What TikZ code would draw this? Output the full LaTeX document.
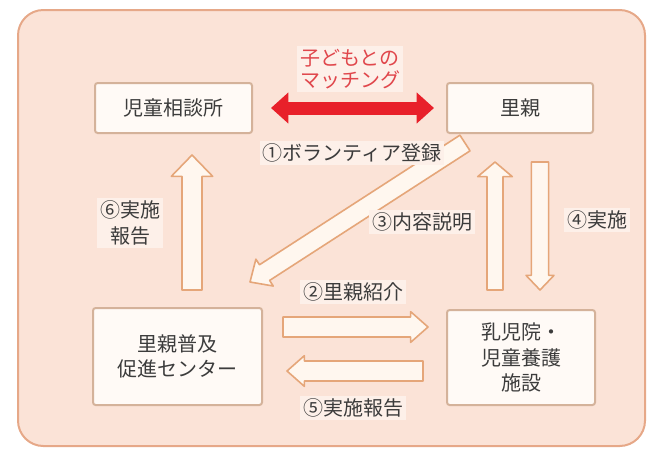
\documentclass[tikz,border=0pt]{standalone}
\usepackage{fontspec}
\setmainfont{Noto Sans CJK JP}
\usetikzlibrary{calc,arrows.meta}
\definecolor{outerfill}{HTML}{FBE3D7}
\definecolor{outerline}{HTML}{E6A888}
\definecolor{boxfill}{HTML}{FFFAF6}
\definecolor{boxline}{HTML}{D4B29A}
\definecolor{arrfill}{HTML}{FFF7EF}
\definecolor{arrline}{HTML}{E5A679}
\definecolor{txt}{HTML}{3C3C3C}
\definecolor{matchred}{HTML}{E8202A}
\definecolor{matchtxt}{HTML}{E0474C}
\definecolor{lblfill}{HTML}{FDF0E9}
\tikzset{
  entity/.style={draw=boxline, fill=boxfill, line width=1.5pt, rounded corners=2pt,
    text=txt, font=\fontsize{15}{19}\selectfont, align=center, inner sep=0pt},
  harrow/.style={draw=arrline, fill=arrfill, line width=1.2pt, line join=round},
  lbl/.style={fill=lblfill, text=txt, font=\fontsize{15}{20}\selectfont, align=center, inner sep=2pt},
  matcharrow/.style={draw=matchred, line width=9.75pt,
    {Triangle[length=13pt,width=22.5pt]}-{Triangle[length=13pt,width=22.5pt]}},
}
% hollow block arrow: #1 from, #2 to, #3 shaft half width, #4 head half width, #5 head length
\newcommand\hollowarr[5]{%
  \coordinate (hN) at ($(#2)!#5!(#1)$);
  \draw[harrow] ($(#1)!#3!90:(#2)$) -- ($(hN)!#3!90:(#2)$) -- ($(hN)!#4!90:(#2)$) -- (#2)
    -- ($(hN)!#4!-90:(#2)$) -- ($(hN)!#3!-90:(#2)$) -- ($(#1)!#3!-90:(#2)$) -- cycle;}
\begin{document}
\begin{tikzpicture}[x=0.75pt,y=-0.75pt]
\useasboundingbox (0,0) rectangle (652,450);
\draw[draw=outerline, fill=outerfill, line width=1.5pt, rounded corners=19pt] (18,10) rectangle (645,446);

% boxes
\node[entity, minimum width=117.75pt, minimum height=37.5pt] (jidou) at (173.5,108) {児童相談所};
\node[entity, minimum width=109.5pt, minimum height=37.5pt] (satooya) at (520,108) {里親};
\node[entity, minimum width=126.75pt, minimum height=72.75pt] (center) at (177.5,356.5) {里親普及\\促進センター};
\node[entity, minimum width=111pt, minimum height=71.25pt] (shisetsu) at (521,357.5) {乳児院・\\児童養護\\施設};

% matching arrow
\draw[matcharrow, shorten <=13.5pt, shorten >=9pt] (jidou.east) -- (satooya.west);
\node[lbl, text=matchtxt, font=\fontsize{15}{17}\selectfont] (match) at (350,69) {子どもとの\\マッチング};

% arrow end points
\coordinate (a1s) at (465,143); \coordinate (a1e) at (250,282);
\coordinate (a2s) at (283,327); \coordinate (a2e) at (428,327);
\coordinate (a3s) at (495,290); \coordinate (a3e) at (495,162);
\coordinate (a4s) at (540,162); \coordinate (a4e) at (540,290);
\coordinate (a5s) at (423,371); \coordinate (a5e) at (287,371);
\coordinate (a6s) at (192,290); \coordinate (a6e) at (192,155);

\hollowarr{a1s}{a1e}{7pt}{12pt}{13pt}
\hollowarr{a2s}{a2e}{7.5pt}{11.5pt}{13pt}
\hollowarr{a3s}{a3e}{6pt}{13pt}{11pt}
\hollowarr{a4s}{a4e}{6.5pt}{10.5pt}{11pt}
\hollowarr{a5s}{a5e}{7.5pt}{11.5pt}{13pt}
\hollowarr{a6s}{a6e}{7.5pt}{15.5pt}{16pt}

% labels
\node[lbl] (l1) at (352,153) {①ボランティア登録};
\node[lbl] (l2) at (353,292) {②里親紹介};
\node[lbl] (l3) at (422,222) {③内容説明};
\node[lbl] (l4) at (597,220) {④実施};
\node[lbl] (l5) at (353,408) {⑤実施報告};
\node[lbl, font=\fontsize{15}{20}\selectfont] (l6) at (130,223) {⑥実施\\報告};
\end{tikzpicture}
\end{document}
